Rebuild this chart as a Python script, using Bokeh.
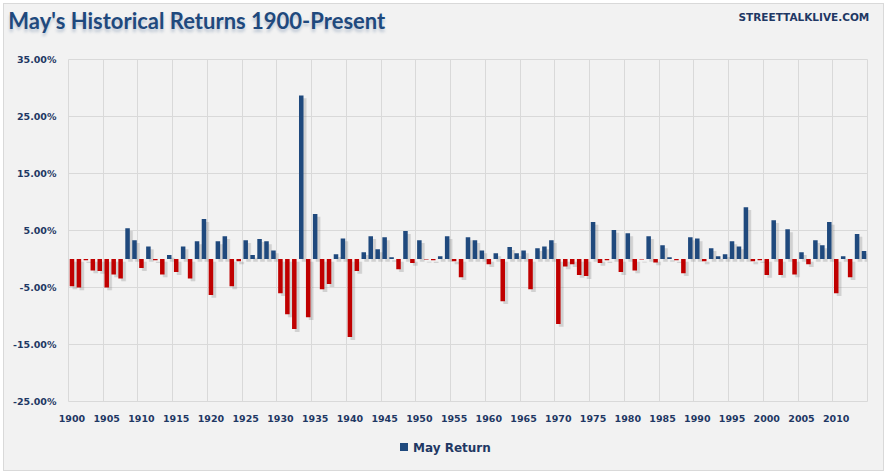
from bokeh.plotting import figure
from bokeh.layouts import column
from bokeh.models import Range1d, FixedTicker, ColumnDataSource, PrintfTickFormatter, Div
from bokeh.embed import file_html
from bokeh.resources import INLINE

years = list(range(1900, 2015))
may_return = [
    -4.8, -5.0, -0.2, -2.0, -2.1, -5.0, -2.7, -3.4, 5.4, 3.3,
    -1.6, 2.2, -0.2, -2.7, 0.7, -2.3, 2.2, -3.4, 3.1, 7.0,
    -6.3, 3.1, 4.0, -4.8, -0.4, 3.3, 0.7, 3.5, 3.1, 1.5,
    -6.0, -9.7, -12.3, 28.7, -10.2, 7.9, -5.3, -4.4, 0.85, 3.6,
    -13.7, -2.1, 1.2, 4.0, 1.7, 3.8, 0.3, -1.8, 4.9, -0.7,
    3.3, -0.1, -0.2, 0.5, 4.0, -0.4, -3.2, 3.8, 3.3, 1.5,
    -0.9, 1.0, -7.4, 2.1, 1.0, 1.5, -5.3, 1.9, 2.2, 3.3,
    -11.4, -1.3, -0.9, -2.8, -3.0, 6.5, -0.7, -0.2, 5.1, -2.3,
    4.5, -2.0, -0.1, 4.0, -0.6, 2.4, 0.3, -0.2, -2.5, 3.8,
    3.6, -0.4, 1.9, 0.5, 0.85, 3.1, 2.2, 9.1, -0.4, -0.2,
    -2.8, 6.8, -2.8, 5.2, -2.7, 1.2, -0.9, 3.3, 2.4, 6.5,
    -6.0, 0.5, -3.2, 4.4, 1.4,
]
y_ticks = [-25, -15, -5, 5, 15, 25, 35]
x_label_years = list(range(1900, 2011, 5))
x_grid_years = [y - 0.5 for y in range(1900, 2015, 5)]

title_text = "May's Historical Returns 1900-Present"
source_text = "STREETTALKLIVE.COM"
legend_text = "May Return"

BLUE = "#1F497D"
RED = "#C00000"
TEXT = "#1F3864"
GRID = "#D9D9D9"
BG = "#F2F2F2"
FONT = "DejaVu Sans"

W = 879
H_HEAD = 47
H_MAIN = 381
H_FOOT = 38

# ---------- header (title + source) ----------
head_html = f"""
<div style="position:relative;width:{W}px;height:{H_HEAD}px;background:{BG};margin:0;padding:0;">
  <span style="position:absolute;left:4.3px;top:5.8px;line-height:22px;white-space:nowrap;
        font-family:Lato;font-weight:bold;font-size:22px;color:{BLUE};
        text-shadow:0px 3px 3px rgba(31,73,125,0.25);">{title_text}</span>
  <span style="position:absolute;right:13.7px;top:7.8px;line-height:10.5px;white-space:nowrap;
        font-family:'{FONT}';font-weight:bold;font-size:10.5px;color:{TEXT};">{source_text}</span>
</div>"""
head = Div(text=head_html, width=W, height=H_HEAD, margin=0, styles={"background-color": BG})

# ---------- main chart ----------
pos = ColumnDataSource(dict(x=[y for y, v in zip(years, may_return) if v >= 0],
                            top=[v for v in may_return if v >= 0]))
neg = ColumnDataSource(dict(x=[y for y, v in zip(years, may_return) if v < 0],
                            top=[v for v in may_return if v < 0]))
shadow = ColumnDataSource(dict(
    x=[y + 0.42 for y in years],
    top=[max(v, 0) - 0.5 for v in may_return],
    bottom=[min(v, 0) - 0.5 for v in may_return],
))

p = figure(width=W, height=H_MAIN, output_backend="svg", toolbar_location=None,
           x_range=Range1d(1899.5, 2014.5), y_range=Range1d(-25, 35),
           min_border_left=64, min_border_right=16, min_border_top=8, min_border_bottom=31,
           margin=0)
p.title.visible = False
p.background_fill_color = BG
p.border_fill_color = BG
p.outline_line_color = GRID
p.outline_line_width = 1

p.xgrid.ticker = FixedTicker(ticks=x_grid_years)
p.xgrid.grid_line_color = GRID
p.ygrid.ticker = FixedTicker(ticks=y_ticks)
p.ygrid.grid_line_color = GRID

p.xaxis.ticker = FixedTicker(ticks=x_label_years)
p.yaxis.ticker = FixedTicker(ticks=y_ticks)
p.yaxis.formatter = PrintfTickFormatter(format="%.2f%%")
for ax in (p.xaxis, p.yaxis):
    ax.axis_line_color = None
    ax.major_tick_line_color = None
    ax.minor_tick_line_color = None
    ax.major_tick_out = 0
    ax.major_tick_in = 0
    ax.minor_tick_out = 0
    ax.minor_tick_in = 0
    ax.major_label_text_font = FONT
    ax.major_label_text_font_style = "bold"
    ax.major_label_text_font_size = "9.5px"
    ax.major_label_text_color = TEXT
p.yaxis.major_label_standoff = 12
p.xaxis.major_label_standoff = 13

p.vbar(x="x", top="top", bottom="bottom", width=0.75, source=shadow,
       fill_color="#7F7F7F", fill_alpha=0.12, line_color=None)
p.vbar(x="x", top="top", bottom="bottom", width=0.6, source=shadow,
       fill_color="#7F7F7F", fill_alpha=0.18, line_color=None)

rb = p.vbar(x="x", top="top", bottom=0, width=0.65, source=pos, fill_color=BLUE, line_color=None)
rr = p.vbar(x="x", top="top", bottom=0, width=0.65, source=neg, fill_color=RED, line_color=None)

# ---------- footer (legend) ----------
foot_html = f"""
<div style="position:relative;width:{W}px;height:{H_FOOT}px;background:{BG};margin:0;padding:0;">
  <span style="position:absolute;left:396px;top:11px;width:8px;height:8px;background:{BLUE};"></span>
  <span style="position:absolute;left:409px;top:10.2px;line-height:12px;white-space:nowrap;
        font-family:'{FONT}';font-weight:bold;font-size:12px;color:{TEXT};">{legend_text}</span>
</div>"""
foot = Div(text=foot_html, width=W, height=H_FOOT, margin=0, styles={"background-color": BG})

layout = column(head, p, foot, spacing=0, margin=(3, 0, 0, 3),
                styles={"background-color": BG, "border": "1px solid #D9D9D9"})

open("out.html", "w").write(file_html(layout, INLINE))
